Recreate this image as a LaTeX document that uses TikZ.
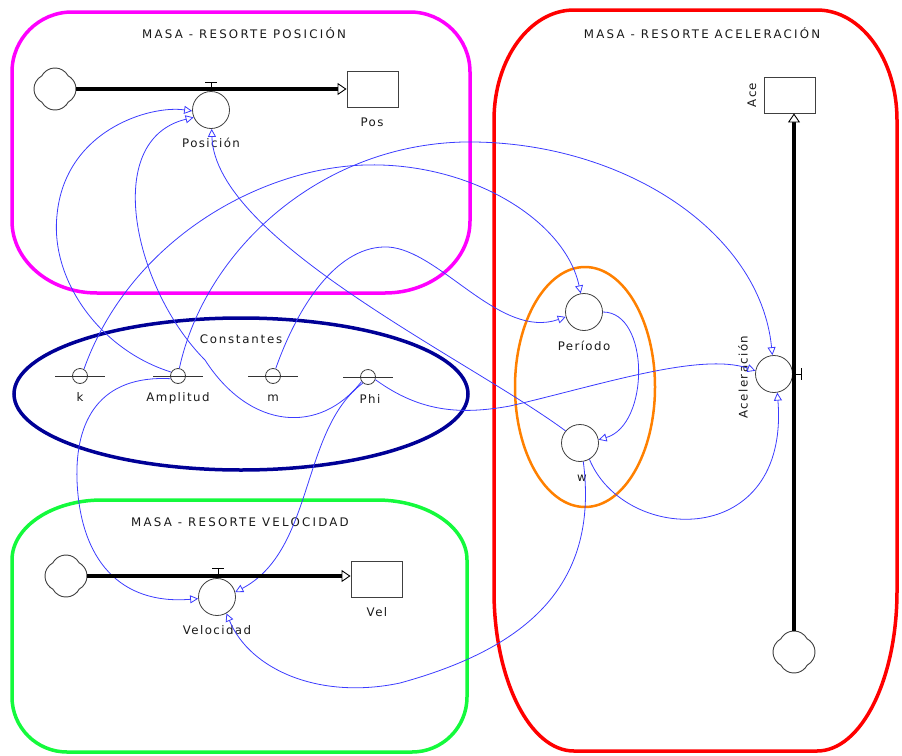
\documentclass[tikz,border=0pt]{standalone}
\usepackage{fontspec}
\setmainfont{DejaVu Sans}
\newfontfamily\lblfont{DejaVu Sans}[LetterSpace=12]
\newfontfamily\cstfont{DejaVu Sans}[LetterSpace=15]
\newfontfamily\ttlfont{DejaVu Sans}[LetterSpace=19]
\usetikzlibrary{arrows.meta}
\definecolor{conn}{RGB}{60,60,255}
\definecolor{magc}{RGB}{255,0,255}
\definecolor{redc}{RGB}{255,0,0}
\definecolor{grnc}{RGB}{20,250,60}
\definecolor{navc}{RGB}{0,0,150}
\definecolor{orgc}{RGB}{255,128,0}
\tikzset{
  aux/.style={circle, draw=black!75, line width=0.8pt, fill=white, minimum size=37pt, inner sep=0pt},
  constnode/.style={circle, draw=black!75, line width=0.8pt, fill=white, minimum size=15pt, inner sep=0pt},
  stock/.style={rectangle, draw=black!75, line width=0.9pt, fill=white, minimum width=51pt, minimum height=36pt, inner sep=0pt},
  cloudspot/.style={circle, minimum size=42pt, inner sep=0pt},
  lbl/.style={font=\lblfont\fontsize{11.8}{13}\selectfont, text=black!90, inner sep=0pt},
  cstlbl/.style={font=\cstfont\fontsize{11.8}{13}\selectfont, text=black!90, inner sep=0pt},
  ttl/.style={font=\ttlfont\fontsize{11.8}{13}\selectfont, text=black!90, inner sep=0pt},
  link/.style={draw=conn, line width=0.8pt, -{Triangle[fill=white, length=8pt, width=8pt, line width=0.8pt]}},
  pipe/.style={draw=black, line width=3.5pt, -{Triangle[fill=white, length=9pt, width=12pt, line width=0.9pt]}},
  valve/.style={draw=black, line width=1pt},
  constline/.style={draw=black!80, line width=0.9pt},
  group/.style={line width=3.5pt},
  sdcloud/.pic={\draw[black!75, line width=0.9pt, fill=white] (13.17,13.17)
     arc[start angle=28.6,end angle=151.4,radius=15] arc[start angle=118.6,end angle=241.4,radius=15]
     arc[start angle=208.6,end angle=331.4,radius=15] arc[start angle=298.6,end angle=421.4,radius=15] -- cycle;}
}
\begin{document}
\begin{tikzpicture}[x=1pt,y=-1pt]
\useasboundingbox (0,0) rectangle (902,755);
% group outlines
\draw[group, draw=magc] (72,12) -- (410,12) arc[start angle=270,end angle=360,x radius=60,y radius=60]
  -- (470,221) arc[start angle=0,end angle=90,x radius=85,y radius=72]
  -- (97,293) arc[start angle=90,end angle=180,x radius=85,y radius=72]
  -- (12,72) arc[start angle=180,end angle=270,x radius=60,y radius=60] -- cycle;
\draw[group, draw=redc] (574,10) -- (817,10) arc[start angle=270,end angle=360,x radius=80,y radius=110]
  -- (897,591) arc[start angle=0,end angle=90,x radius=80,y radius=160]
  -- (574,751) arc[start angle=90,end angle=180,x radius=80,y radius=160]
  -- (494,120) arc[start angle=180,end angle=270,x radius=80,y radius=110] -- cycle;
\draw[group, draw=grnc] (102,500) -- (377,500) arc[start angle=270,end angle=360,x radius=90,y radius=60]
  -- (467,697) arc[start angle=0,end angle=90,x radius=55,y radius=55]
  -- (67,752) arc[start angle=90,end angle=180,x radius=55,y radius=55]
  -- (12,560) arc[start angle=180,end angle=270,x radius=90,y radius=60] -- cycle;
\draw[group, draw=navc] (241,394) ellipse[x radius=227, y radius=76];
\draw[line width=2.5pt, draw=orgc] (585,387) ellipse[x radius=70, y radius=120];
% titles
\node[ttl] (tPos) at (244,33) {MASA - RESORTE POSICIÓN};
\node[ttl] (tAce) at (702,33) {MASA - RESORTE ACELERACIÓN};
\node[ttl] (tVel) at (240,522) {MASA - RESORTE VELOCIDAD};
\node[cstlbl] (tCst) at (241,339) {Constantes};
% nodes
\node[aux] (pos) at (211,110) {};
\node[aux] (vel) at (217,597) {};
\node[aux] (per) at (584,312) {};
\node[aux] (w) at (580,443) {};
\node[aux] (acel) at (774,374) {};
\node[constnode] (k) at (80,376) {};
\node[constnode] (amp) at (178,376) {};
\node[constnode] (m) at (273,376) {};
\node[constnode] (phi) at (368,377) {};
\foreach \c in {k,amp,m,phi}{\draw[constline] ([xshift=-25pt]\c.center) -- ([xshift=25pt]\c.center);}
\node[stock] (stPos) at (372.5,89) {};
\node[stock] (stVel) at (376.5,579) {};
\node[stock] (stAce) at (790,95) {};
\node[cloudspot] (cpos) at (55,89) {};
\node[cloudspot] (cvel) at (66,576) {};
\node[cloudspot] (cace) at (794,652) {};
\pic at (55,89) {sdcloud};
\pic at (66,576) {sdcloud};
\pic at (794,652) {sdcloud};
% labels
\node[lbl] (posL) at (211,143) {Posición};
\node[lbl] (velL) at (217,630) {Velocidad};
\node[lbl] (perL) at (584,346) {Período};
\node[lbl] (wL) at (582,478) {w};
\node[lbl, rotate=90] (acelL) at (743,377) {Aceleración};
\node[lbl] (kL) at (80,397) {k};
\node[lbl] (ampL) at (178,398) {Amplitud};
\node[lbl] (mL) at (273,398) {m};
\node[lbl] (phiL) at (370,399) {Phi};
\node[lbl] (PosL) at (372,122) {Pos};
\node[lbl] (VelL) at (377,612) {Vel};
\node[lbl, rotate=90] (AceL) at (752,95) {Ace};
% connectors
\draw[link] (k.60) .. controls (130,240) and (260,168) .. (365,165) .. controls (470,162) and (565,220) .. (per.100);
\draw[link] (amp.80) .. controls (205,250) and (320,145) .. (464,142) .. controls (620,140) and (760,230) .. (acel.95);
\draw[link] (m.70) .. controls (300,300) and (340,245) .. (388,247) .. controls (440,250) and (500,340) .. (per.195);
\draw[link] (per.0) .. controls (650,312) and (650,425) .. (w.10);
\draw[link] (amp.150) .. controls (100,350) and (50,280) .. (57,215) .. controls (65,130) and (150,105) .. (pos.183);
\draw[link] (phi.215) .. controls (320,435) and (250,430) .. (205,360) .. controls (135,290) and (100,140) .. (pos.203);
\draw[link] (w.140) .. controls (470,360) and (215,240) .. (pos.272);
\draw[link] (phi.230) .. controls (300,430) and (315,550) .. (vel.15);
\draw[link] (amp.200) .. controls (100,375) and (75,420) .. (77,480) .. controls (80,560) and (120,605) .. (vel.185);
\draw[link] (w.280) .. controls (600,590) and (520,650) .. (400,683) .. controls (320,700) and (250,670) .. (vel.300);
\draw[link] (phi.340) .. controls (420,412) and (460,415) .. (510,406) .. controls (600,385) and (700,352) .. (acel.170);
\draw[link] (w.300) .. controls (625,545) and (790,550) .. (acel.280);
% pipes and valves
\draw[pipe] (cpos.east) -- (stPos.west);
\draw[pipe] (cvel.east) -- (cvel.east -| stVel.west);
\draw[pipe] (cace.north) -- (cace.north |- stAce.south);
\draw[valve] (211,89) -- (211,82) (205,82) -- (217,82);
\draw[valve] (218,575) -- (218,568) (212,568) -- (224,568);
\draw[valve] (794,374) -- (801,374) (801,368) -- (801,380);
\end{tikzpicture}
\end{document}
